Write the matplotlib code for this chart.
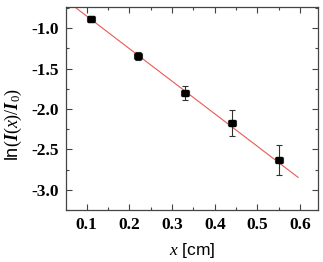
import matplotlib
matplotlib.use("Agg")
import matplotlib.pyplot as plt
from matplotlib.ticker import MultipleLocator

# measured points: thickness x [cm] vs ln(I(x)/I0)
x_cm = [0.11, 0.22, 0.33, 0.44, 0.55]
ln_ratio = [-0.89, -1.35, -1.80, -2.17, -2.63]
x_err = [0.009, 0.009, 0.009, 0.009, 0.009]
y_err = [0.04, 0.05, 0.085, 0.16, 0.19]

# linear fit drawn across the data
fit_x = [0.05, 0.595]
fit_y = [-0.649, -2.845]

plt.rcParams["mathtext.fontset"] = "custom"
plt.rcParams["mathtext.rm"] = "Liberation Serif"
plt.rcParams["mathtext.it"] = "Liberation Serif:italic"
plt.rcParams["mathtext.bf"] = "Liberation Serif:bold"
plt.rcParams["mathtext.bfit"] = "Liberation Serif:bold:italic"
plt.rcParams["mathtext.sf"] = "Liberation Sans"

fig = plt.figure(figsize=(3.23, 2.62), dpi=100)
ax = fig.add_axes([0.204, 0.198, 0.781, 0.775])

ax.plot(fit_x, fit_y, color="#ea5a55", lw=0.8, zorder=1)
ax.errorbar(x_cm, ln_ratio, xerr=x_err, yerr=y_err, fmt="s", ms=4,
            mfc="black", mec="black", ecolor="#333333", elinewidth=0.8,
            capsize=2.2, capthick=0.8, zorder=2)

ax.set_xlim(0.0515, 0.642)
ax.set_ylim(-3.25, -0.74)
ax.xaxis.set_major_locator(MultipleLocator(0.1))
ax.xaxis.set_minor_locator(MultipleLocator(0.05))
ax.yaxis.set_major_locator(MultipleLocator(0.5))
ax.yaxis.set_minor_locator(MultipleLocator(0.25))
ax.tick_params(which="both", direction="in", top=True, right=True, color="#444444", width=0.8)
ax.tick_params(which="major", length=4, pad=5)
ax.tick_params(which="minor", length=2.5)
for s in ax.spines.values():
    s.set_color("#444444")
    s.set_linewidth(0.9)

ax.set_xticks([0.1, 0.2, 0.3, 0.4, 0.5, 0.6])
ax.set_xticklabels(["0.1", "0.2", "0.3", "0.4", "0.5", "0.6"])
ax.set_yticks([-1.0, -1.5, -2.0, -2.5, -3.0])
ax.set_yticklabels(["-1.0", "-1.5", "-2.0", "-2.5", "-3.0"])
for lab in ax.get_xticklabels() + ax.get_yticklabels():
    lab.set_fontfamily("Liberation Serif")
    lab.set_fontweight("bold")
    lab.set_fontsize(12.5)

ax.set_xlabel(r"$x$ [cm]", fontfamily="Liberation Sans", fontsize=12.5, labelpad=6)
ax.set_ylabel(r"$\mathsf{ln}(\mathbfit{I}(x)/\mathbfit{I}_0)$", fontfamily="Liberation Sans", fontsize=13)
ax.yaxis.set_label_coords(-0.165, 0.42)

fig.savefig("out.png", dpi=100)
